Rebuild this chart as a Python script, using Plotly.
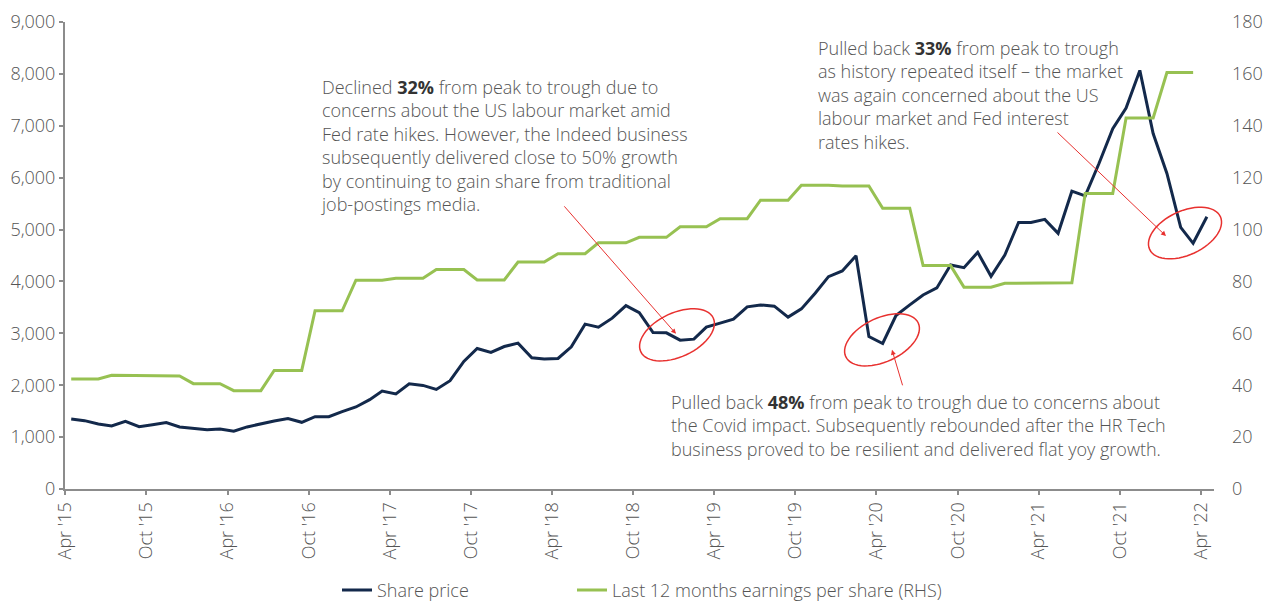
import math
import pandas as pd
import plotly.graph_objects as go

# ---- data (monthly, Apr 2015 .. Apr 2022) ----
start_month = "2015-04-01"
n_months = 85
share_price = [1350, 1317, 1254, 1215, 1304, 1202, 1237, 1279, 1196, 1163,
               1144, 1158, 1115, 1196, 1260, 1312, 1356, 1285, 1394, 1394,
               1490, 1581, 1721, 1888, 1831, 2029, 1996, 1919, 2087, 2458,
               2708, 2631, 2746, 2811, 2529, 2504, 2515, 2740, 3177, 3119,
               3292, 3535, 3400, 3015, 3010, 2869, 2888, 3119, 3196, 3273,
               3510, 3548, 3523, 3312, 3471, 3773, 4092, 4202, 4496, 2938,
               2804, 3342, 3548, 3740, 3875, 4317, 4265, 4561, 4100, 4510,
               5138, 5138, 5196, 4927, 5740, 5650, 6273, 6946, 7342, 8067,
               6850, 6081, 5042, 4735, 5246]
eps_ltm = [42.4, 42.4, 42.4, 43.8, 43.8, 43.8, 43.6, 43.6, 43.6, 40.6,
           40.6, 40.6, 37.9, 37.9, 37.9, 45.7, 45.7, 45.7, 68.7, 68.7,
           68.7, 80.5, 80.5, 80.5, 81.2, 81.2, 81.2, 84.6, 84.6, 84.6,
           80.6, 80.6, 80.6, 87.5, 87.5, 87.5, 90.7, 90.7, 90.7, 94.9,
           94.9, 94.9, 97.0, 97.0, 97.0, 101.1, 101.1, 101.1, 104.2, 104.2,
           104.2, 111.3, 111.3, 111.3, 117.1, 117.1, 117.1, 116.8, 116.8, 116.8,
           108.2, 108.2, 108.2, 86.1, 86.1, 86.1, 77.8, 77.8, 77.8, 79.3,
           79.3, 79.3, 79.5, 79.5, 79.5, 113.9, 113.9, 113.9, 143.0, 143.0,
           143.0, 160.5, 160.5, 160.5, None]
series_names = ["Share price", "Last 12 months earnings per share (RHS)"]

B_ON = "<span style='color:#333333'><b>"
B_OFF = "</b></span>"
note_32 = ("Declined " + B_ON + "32%" + B_OFF + " from peak to trough due to<br>"
           "concerns about the US labour market amid<br>"
           "Fed rate hikes. However, the Indeed business<br>"
           "subsequently delivered close to 50% growth<br>"
           "by continuing to gain share from traditional<br>"
           "job-postings media.")
note_33 = ("Pulled back " + B_ON + "33%" + B_OFF + " from peak to trough<br>"
           "as history repeated itself \u2013 the market<br>"
           "was again concerned about the US<br>"
           "labour market and Fed interest<br>"
           "rates hikes.")
note_48 = ("Pulled back " + B_ON + "48%" + B_OFF + " from peak to trough due to concerns about<br>"
           "the Covid impact. Subsequently rebounded after the HR Tech<br>"
           "business proved to be resilient and delivered flat yoy growth.")

months = pd.date_range(start_month, periods=n_months, freq="MS") + pd.Timedelta(days=14)

# ---- layout helpers (pixel -> paper) ----
W, H = 1264, 601
L, R, T, B = 65, 1214, 21.5, 489.5
def px(x):
    return (x - L) / (R - L)
def py(y):
    return (B - y) / (B - T)

def ellipse_path(cx, cy, a, b, ang_deg, n=60):
    ang = math.radians(ang_deg)
    pts = []
    for k in range(n + 1):
        t = 2 * math.pi * k / n
        ex, ey = a * math.cos(t), b * math.sin(t)
        x = cx + ex * math.cos(ang) + ey * math.sin(ang)
        y = cy - ex * math.sin(ang) + ey * math.cos(ang)
        pts.append((px(x), py(y)))
    return "M " + " L ".join(f"{u:.5f},{v:.5f}" for u, v in pts) + " Z"

FONT = "Open Sans"
FW = 300
FS = 18
GREY = "#555555"
RED = "#e8312f"
NAVY = "#13294b"
GREEN = "#97c152"
AX = "#8c8c8c"

fig = go.Figure()
fig.add_trace(go.Scatter(x=months, y=share_price, name=series_names[0], mode="lines",
                         line=dict(color=NAVY, width=3), legend="legend"))
fig.add_trace(go.Scatter(x=months, y=eps_ltm, name=series_names[1], mode="lines",
                         line=dict(color=GREEN, width=3), yaxis="y2", legend="legend2"))

leg_common = dict(orientation="h", xanchor="left", xref="paper", yref="paper",
                  y=py(591), yanchor="middle", font=dict(size=FS),
                  bgcolor="rgba(0,0,0,0)")

fig.update_layout(
    width=W, height=H,
    margin=dict(l=L, r=W - R, t=T, b=H - B, autoexpand=False),
    plot_bgcolor="white", paper_bgcolor="white",
    font=dict(family=FONT, size=FS, color=GREY, weight=FW),
    xaxis=dict(type="date", range=["2015-04-01", "2022-05-01"],
               tick0="2015-04-01", dtick="M6", tickformat="%b '%y",
               tickangle=-90, showgrid=False, zeroline=False, automargin=False,
               showline=True, linecolor=AX, linewidth=2,
               ticks="outside", ticklen=4, tickcolor=AX, tickwidth=2),
    yaxis=dict(range=[0, 9000], tickvals=list(range(0, 9001, 1000)), tickformat=",d",
               showgrid=False, zeroline=False, showline=True, linecolor=AX, linewidth=2,
               automargin=False, ticks="outside", ticklen=4, tickcolor=AX, tickwidth=2),
    yaxis2=dict(range=[0, 180], tickvals=list(range(0, 181, 20)), overlaying="y", side="right",
                showgrid=False, zeroline=False, showline=False, ticks="", automargin=False,
                ticklabelstandoff=17),
    showlegend=True,
    legend=dict(x=px(337), **leg_common),
    legend2=dict(x=px(572), **leg_common),
)

shapes = [
    dict(type="path", xref="paper", yref="paper", path=ellipse_path(677, 335, 40, 22, 25),
         line=dict(color=RED, width=1.5)),
    dict(type="path", xref="paper", yref="paper", path=ellipse_path(882, 340, 40, 22, 25),
         line=dict(color=RED, width=1.5)),
    dict(type="path", xref="paper", yref="paper", path=ellipse_path(1185, 233, 39, 22, 25),
         line=dict(color=RED, width=1.5)),
]
fig.update_layout(shapes=shapes)

ann = [
    dict(text=note_32, x=px(319), y=py(145.5), xanchor="left", yanchor="middle"),
    dict(text=note_33, x=px(816), y=py(95), xanchor="left", yanchor="middle"),
    dict(text=note_48, x=px(669), y=py(425.5), xanchor="left", yanchor="middle"),
]
for a in ann:
    fig.add_annotation(xref="paper", yref="paper", showarrow=False, align="left",
                       font=dict(family=FONT, size=FS, color=GREY, weight=FW), **a)

arrows = [((676, 334), (563, 205)), ((892, 350), (903, 387)), ((1166, 236), (1056, 131))]
for (hx, hy), (tx, ty) in arrows:
    fig.add_annotation(xref="paper", yref="paper", x=px(hx), y=py(hy), text="",
                       showarrow=True, ax=tx - hx, ay=ty - hy, arrowhead=2, arrowsize=1,
                       arrowwidth=1, arrowcolor=RED, standoff=0)

fig.write_html("out.html", config={"displayModeBar": False},
               post_script="document.body.style.margin='0px';")
